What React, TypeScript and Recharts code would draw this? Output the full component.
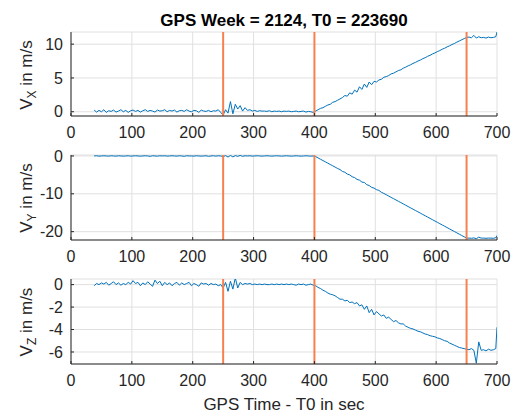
import React from 'react';
import { LineChart, Line, XAxis, YAxis, CartesianGrid, ReferenceLine } from 'recharts';

const times = [
  38, 42, 46, 50, 54, 58, 62, 66, 70, 74,
  78, 82, 86, 90, 94, 98, 102, 106, 110, 114,
  118, 122, 126, 130, 134, 138, 142, 146, 150, 154,
  158, 162, 166, 170, 174, 178, 182, 186, 190, 194,
  198, 202, 206, 210, 214, 218, 222, 226, 230, 234,
  238, 242, 246, 250, 254, 258, 262, 266, 270, 274,
  278, 282, 286, 290, 294, 298, 302, 306, 310, 314,
  318, 322, 326, 330, 334, 338, 342, 346, 350, 354,
  358, 362, 366, 370, 374, 378, 382, 386, 390, 394,
  398, 402, 406, 410, 414, 418, 422, 426, 430, 434,
  438, 442, 446, 450, 454, 458, 462, 466, 470, 474,
  478, 482, 486, 490, 494, 498, 502, 506, 510, 514,
  518, 522, 526, 530, 534, 538, 542, 546, 550, 554,
  558, 562, 566, 570, 574, 578, 582, 586, 590, 594,
  598, 602, 606, 610, 614, 618, 622, 626, 630, 634,
  638, 642, 646, 650, 654, 658, 662, 666, 670, 674,
  678, 682, 686, 690, 694, 698, 700,
];

const vx = [
  0.25, -0.05, 0.2, 0.0, 0.3, -0.1, 0.15, 0.05, 0.25, -0.05,
  0.1, 0.3, 0.0, 0.2, -0.1, 0.15, 0.25, 0.05, 0.2, -0.05,
  0.15, 0.3, 0.05, 0.2, 0.1, -0.05, 0.25, 0.1, 0.15, 0.3,
  0.0, 0.2, 0.1, 0.25, -0.05, 0.15, 0.2, 0.05, 0.3, 0.1,
  0.0, 0.2, 0.15, -0.1, 0.25, 0.1, 0.05, 0.2, 0.0, 0.15,
  0.1, 0.3, -0.1, -0.5, 0.3, -0.2, 1.5, -0.3, 1.1, 0.4,
  0.9, 0.1, 0.6, 0.2, 0.3, 0.1, 0.2, 0.05, 0.15, 0.1,
  0.1, 0.05, 0.15, 0.0, 0.1, 0.05, 0.1, 0.0, 0.1, 0.05,
  0.1, 0.0, 0.05, 0.1, 0.0, 0.05, 0.1, -0.05, 0.05, 0.0,
  -0.1, 0.1, 0.3, 0.5, 0.6, 0.8, 1.0, 1.1, 1.4, 1.5,
  1.7, 1.9, 2.1, 2.4, 2.3, 2.8, 2.6, 3.2, 2.9, 3.7,
  3.3, 4.1, 3.6, 4.4, 4.0, 4.5, 4.4, 4.7, 4.8, 5.1,
  5.2, 5.35, 5.6, 5.7, 5.9, 6.1, 6.2, 6.45, 6.6, 6.8,
  6.95, 7.15, 7.3, 7.5, 7.65, 7.85, 8.0, 8.2, 8.35, 8.55,
  8.7, 8.9, 9.05, 9.25, 9.4, 9.6, 9.75, 9.95, 10.1, 10.3,
  10.47, 10.65, 10.82, 11.0, 11.05, 10.95, 11.3, 10.9, 11.1, 10.95,
  11.0, 10.9, 11.05, 10.95, 11.0, 11.1, 11.8,
];

const vy = [
  0.0, 0.05, -0.05, 0.0, 0.05, 0.0, -0.05, 0.05, 0.0, -0.05,
  0.05, 0.0, -0.05, 0.0, 0.05, -0.05, 0.0, 0.05, 0.0, -0.05,
  0.0, 0.05, 0.0, -0.1, 0.05, 0.0, -0.05, 0.05, 0.0, 0.05,
  -0.05, 0.0, 0.05, 0.0, -0.05, 0.05, 0.0, -0.1, 0.05, 0.0,
  0.0, -0.05, 0.05, 0.0, -0.05, 0.0, 0.05, -0.1, 0.0, 0.05,
  -0.05, 0.05, 0.0, -0.2, 0.1, -0.3, 0.15, -0.25, 0.1, -0.1,
  0.15, -0.1, 0.05, 0.0, 0.05, -0.05, 0.0, 0.05, 0.0, -0.05,
  0.0, 0.05, 0.0, -0.05, 0.0, 0.05, 0.0, -0.05, 0.0, 0.05,
  0.0, -0.05, 0.0, 0.05, 0.0, -0.05, 0.0, 0.05, 0.0, -0.05,
  0.0, -0.17, -0.52, -0.87, -1.22, -1.56, -1.91, -2.26, -2.6, -2.95,
  -3.3, -3.6, -4.1, -4.3, -4.8, -5.0, -5.5, -5.7, -6.2, -6.4,
  -6.9, -7.0, -7.6, -7.8, -8.3, -8.5, -8.9, -9.1, -9.6, -9.9,
  -10.24, -10.59, -10.94, -11.28, -11.63, -11.98, -12.32, -12.67, -13.02, -13.37,
  -13.71, -14.06, -14.41, -14.75, -15.1, -15.45, -15.8, -16.14, -16.49, -16.84,
  -17.19, -17.53, -17.88, -18.23, -18.57, -18.92, -19.27, -19.62, -19.96, -20.31,
  -20.66, -21.0, -21.35, -21.7, -21.7, -21.75, -21.65, -21.85, -21.45, -21.7,
  -21.7, -21.75, -21.7, -21.7, -21.75, -21.6, -21.0,
];

const vz = [
  -0.1, 0.1, 0.0, 0.15, 0.05, 0.2, -0.05, 0.1, 0.25, 0.0,
  0.15, -0.05, 0.1, 0.0, 0.2, 0.05, 0.35, 0.1, 0.2, -0.1,
  0.15, 0.0, 0.25, 0.05, -0.15, 0.4, 0.1, 0.3, -0.1, 0.2,
  0.0, 0.15, -0.1, 0.1, 0.2, -0.05, 0.15, 0.0, 0.1, 0.2,
  -0.1, 0.1, 0.0, -0.15, 0.15, 0.05, 0.1, -0.05, 0.1, 0.0,
  0.05, -0.1, 0.0, -0.3, 0.2, -0.6, 0.3, -0.4, 0.6, -0.3,
  0.2, 0.0, 0.1, 0.05, 0.1, 0.0, 0.05, 0.0, 0.05, 0.0,
  0.05, 0.0, 0.0, 0.05, 0.0, 0.05, 0.0, 0.05, 0.0, 0.05,
  0.0, 0.05, 0.0, -0.05, 0.05, 0.0, 0.05, -0.05, 0.0, 0.05,
  -0.05, -0.1, -0.25, -0.35, -0.5, -0.6, -0.75, -0.85, -0.9, -1.0,
  -1.15, -1.3, -1.3, -1.45, -1.4, -1.6, -1.55, -1.7, -1.6, -1.9,
  -1.8, -2.2, -1.9, -2.5, -2.2, -2.7, -2.4, -2.6, -2.8, -2.7,
  -3.0, -2.9, -3.1, -3.3, -3.2, -3.4, -3.5, -3.5, -3.7, -3.8,
  -3.9, -3.95, -4.05, -4.15, -4.2, -4.3, -4.4, -4.45, -4.55, -4.6,
  -4.65, -4.75, -4.8, -4.9, -5.0, -5.05, -5.2, -5.3, -5.4, -5.5,
  -5.6, -5.65, -5.7, -5.75, -5.8, -5.7, -5.85, -7.0, -5.1, -5.85,
  -5.8, -5.9, -5.75, -5.85, -5.8, -5.7, -3.8,
];

const xTicks = [0, 100, 200, 300, 400, 500, 600, 700];
const vxTicks = [0, 5, 10];
const vyTicks = [-20, -10, 0];
const vzTicks = [-6, -4, -2, 0];
const eventTimes = [250, 400, 650];

const rows = times.map((t, i) => ({ t, vx: vx[i], vy: vy[i], vz: vz[i] }));

const FONT = '"Liberation Sans", Arial, Helvetica, sans-serif';
const TXT = '#262626';
const BLUE = '#0072BD';
const ORANGE = '#F7804F';
const TOP_PAD = 12;

type PanelProps = {
  plotTop: number;
  plotH: number;
  dataKey: string;
  domain: [number, number];
  ticks: number[];
};

function Panel({ plotTop, plotH, dataKey, domain, ticks }: PanelProps) {
  const tickStyle = { fill: TXT, fontSize: 16, fontFamily: FONT };
  return (
    <div style={{ position: 'absolute', left: 0, top: plotTop - TOP_PAD }}>
      <LineChart
        width={516}
        height={TOP_PAD + plotH + 35}
        data={rows}
        margin={{ top: TOP_PAD, right: 19, left: 0, bottom: 0 }}
      >
        <CartesianGrid stroke="#e0e0e0" strokeWidth={1} />
        <XAxis
          dataKey="t"
          type="number"
          domain={[0, 700]}
          ticks={xTicks}
          interval={0}
          allowDataOverflow
          height={35}
          tickSize={-3}
          tickMargin={14}
          tick={tickStyle}
          axisLine={{ stroke: TXT }}
          tickLine={{ stroke: TXT }}
        />
        <XAxis
          xAxisId="top"
          orientation="top"
          dataKey="t"
          type="number"
          domain={[0, 700]}
          ticks={xTicks}
          interval={0}
          allowDataOverflow
          height={0}
          tickSize={-3}
          tickFormatter={() => ''}
          axisLine={{ stroke: TXT }}
          tickLine={{ stroke: TXT }}
        />
        <YAxis
          type="number"
          domain={domain}
          ticks={ticks}
          interval={0}
          allowDataOverflow
          width={71}
          tickSize={-3}
          tickMargin={11}
          tick={tickStyle}
          axisLine={{ stroke: TXT }}
          tickLine={{ stroke: TXT }}
        />
        <YAxis
          yAxisId="right"
          orientation="right"
          type="number"
          domain={domain}
          ticks={ticks}
          interval={0}
          allowDataOverflow
          width={0}
          tickSize={-3}
          tickFormatter={() => ''}
          axisLine={{ stroke: TXT }}
          tickLine={{ stroke: TXT }}
        />
        <Line
          dataKey={dataKey}
          type="linear"
          stroke={BLUE}
          strokeWidth={1}
          dot={false}
          isAnimationActive={false}
        />
        {eventTimes.map((x) => (
          <ReferenceLine key={x} x={x} stroke={ORANGE} strokeWidth={2} />
        ))}
      </LineChart>
    </div>
  );
}

function YLabel({ cy, sub }: { cy: number; sub: string }) {
  return (
    <text
      x={32}
      y={cy}
      transform={`rotate(-90, 32, ${cy})`}
      textAnchor="middle"
      fontSize={17}
      fill={TXT}
      fontFamily={FONT}
    >
      V
      <tspan dy={4} fontSize={12}>{sub}</tspan>
      <tspan dy={-4}> in m/s</tspan>
    </text>
  );
}

export default function App() {
  return (
    <div style={{ position: 'absolute', left: 0, top: 0, width: 516, height: 415, background: '#fff', fontFamily: FONT }}>
      <Panel plotTop={32} plotH={84} dataKey="vx" domain={[-0.63, 11.8]} ticks={vxTicks} />
      <Panel plotTop={155} plotH={85} dataKey="vy" domain={[-22.2, 0.25]} ticks={vyTicks} />
      <Panel plotTop={279} plotH={85} dataKey="vz" domain={[-7.07, 0.5]} ticks={vzTicks} />
      <svg
        width={516}
        height={415}
        style={{ position: 'absolute', left: 0, top: 0, pointerEvents: 'none' }}
      >
        <text x={284} y={26} textAnchor="middle" fontSize={17} fontWeight="bold" fill="#000" fontFamily={FONT}>
          GPS Week = 2124, T0 = 223690
        </text>
        <YLabel cy={75} sub="X" />
        <YLabel cy={198} sub="Y" />
        <YLabel cy={322} sub="Z" />
        <text x={284} y={410} textAnchor="middle" fontSize={17} fill={TXT} fontFamily={FONT}>
          GPS Time - T0 in sec
        </text>
      </svg>
    </div>
  );
}
